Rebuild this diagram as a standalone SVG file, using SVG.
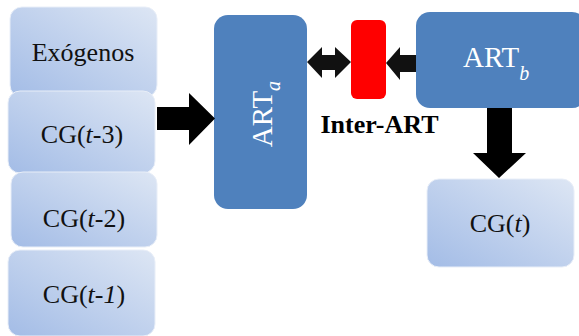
<svg xmlns="http://www.w3.org/2000/svg" width="579" height="336" viewBox="0 0 579 336">
<defs>
<linearGradient id="lg" x1="0" y1="1" x2="1" y2="0">
<stop offset="0" stop-color="#a3bce6"/>
<stop offset="1" stop-color="#dde6f4"/>
</linearGradient>
<style>
.lb{fill:url(#lg);stroke:#e8eef8;stroke-width:1}
.db{fill:#4f81bd}
.sf{font-family:"Liberation Serif","Times New Roman",serif}
.t{font-size:26px;fill:#111;text-anchor:middle}
.w{font-size:29px;fill:#fff}
.i{font-style:italic}
.ar{fill:#000}
.ar2{fill:#111}
</style>
</defs>
<rect width="579" height="336" fill="#fff"/>
<g id="exogenos">
<rect class="lb" x="10" y="7" width="147" height="90" rx="12"/>
<text class="t sf" x="83" y="61">Exógenos</text>
</g>
<g id="cg-t3">
<rect class="lb" x="8" y="91" width="147" height="82" rx="12"/>
<text class="t sf" x="82" y="143">CG(<tspan class="i">t</tspan>-3)</text>
</g>
<g id="cg-t2">
<rect class="lb" x="11" y="172" width="146" height="75" rx="12"/>
<text class="t sf" x="84" y="227">CG(<tspan class="i">t</tspan>-2)</text>
</g>
<g id="cg-t1">
<rect class="lb" x="8" y="250" width="147" height="86" rx="12"/>
<text class="t sf" x="84" y="303">CG(<tspan class="i">t-1</tspan>)</text>
</g>
<g id="art-a">
<rect class="db" x="214" y="15" width="93" height="194" rx="14"/>
<text class="w sf" transform="translate(272,114) rotate(-90)" text-anchor="middle">ART<tspan class="i" font-size="20" dy="8">a</tspan></text>
</g>
<g id="inter-art">
<rect x="351" y="20" width="35" height="79" rx="6" fill="#ff0000"/>
<text class="sf" x="379.5" y="133" font-size="26" font-weight="bold" fill="#000" text-anchor="middle">Inter-ART</text>
</g>
<g id="art-b">
<rect class="db" x="416" y="12" width="170" height="96" rx="14"/>
<text class="w sf" x="463" y="67">ART<tspan class="i" font-size="20" dy="13">b</tspan></text>
</g>
<g id="cg-t">
<rect class="lb" x="427" y="179" width="147" height="88" rx="12"/>
<text class="t sf" x="500" y="232">CG(<tspan class="i">t</tspan>)</text>
</g>
<g id="connectors">
<polygon class="ar" points="157,107 189,107 189,93 215,118.5 189,145 189,130 157,130"/>
<polygon class="ar2" points="307,62 322,47 322,55 335,55 335,47 351,62 335,78 335,70 322,70 322,78"/>
<polygon class="ar2" points="386,63 400,47 400,55 416,55 416,72 400,72 400,80"/>
<polygon class="ar" points="487,108 512,108 512,153 526,153 499,178 473,153 487,153"/>
</g>
</svg>
